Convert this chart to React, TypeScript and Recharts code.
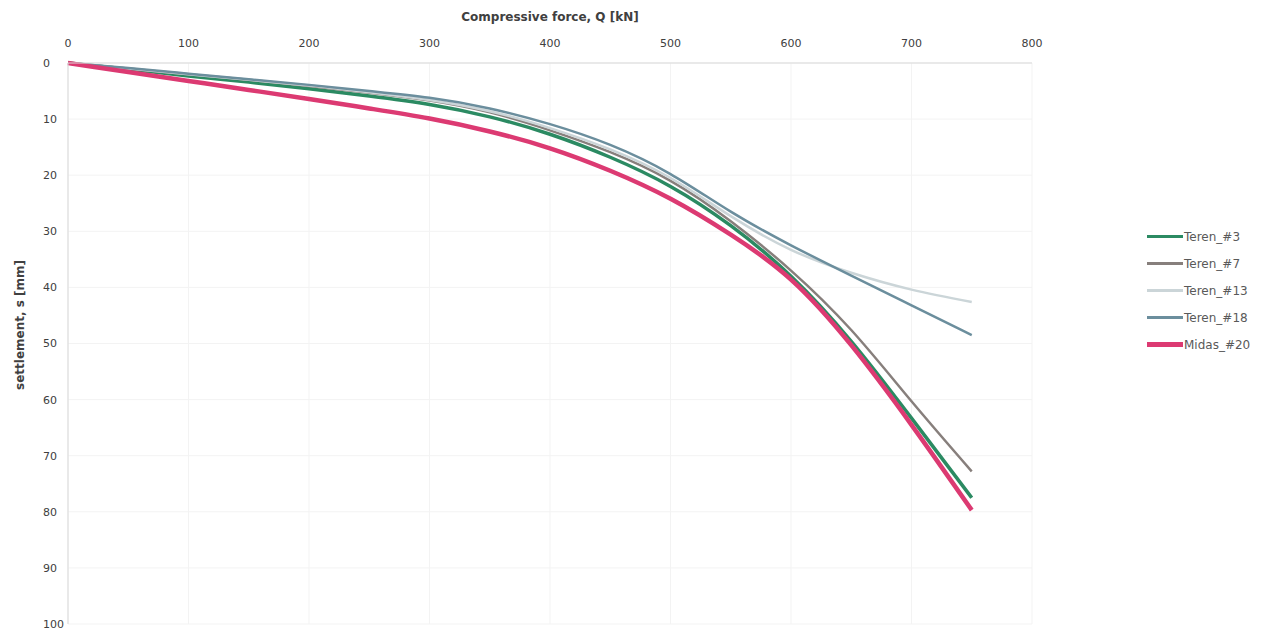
import React from 'react';
import { LineChart, Line, XAxis, YAxis, CartesianGrid, Legend, Label } from 'recharts';

// compressive force Q [kN]
const loads = [0, 50, 100, 150, 200, 250, 300, 350, 400, 450, 500, 550, 600, 650, 700, 750];

// settlement s [mm] per curve
const teren3 = [0, 1.1, 2.3, 3.4, 4.6, 5.9, 7.4, 9.6, 12.7, 16.8, 22.0, 29.0, 38.0, 49.6, 63.3, 77.5];
const teren7 = [0, 1.0, 2.0, 3.0, 4.1, 5.3, 6.7, 8.8, 12.0, 15.9, 21.0, 28.2, 37.0, 47.6, 60.3, 72.8];
const teren13 = [0, 1.0, 2.0, 3.0, 4.0, 5.2, 6.6, 8.6, 11.6, 15.4, 20.5, 27.3, 33.3, 37.4, 40.4, 42.6];
const teren18 = [0, 0.9, 1.9, 2.9, 3.9, 5.0, 6.2, 8.1, 10.9, 14.6, 19.8, 26.5, 32.5, 37.9, 43.2, 48.5];
const midas20 = [0, 1.6, 3.2, 4.8, 6.4, 8.1, 9.9, 12.2, 15.2, 19.2, 24.2, 30.6, 38.6, 50.3, 64.5, 79.7];

const xTicks = [0, 100, 200, 300, 400, 500, 600, 700, 800];
const yTicks = [0, 10, 20, 30, 40, 50, 60, 70, 80, 90, 100];

const series = [
  { key: 'Teren_#3', values: teren3, color: '#2b8a62', width: 3.5 },
  { key: 'Teren_#7', values: teren7, color: '#877f7c', width: 2.5 },
  { key: 'Teren_#13', values: teren13, color: '#cbd5d8', width: 2.5 },
  { key: 'Teren_#18', values: teren18, color: '#6b8e9d', width: 2.5 },
  { key: 'Midas_#20', values: midas20, color: '#dc3a72', width: 4.5 },
];

const data = loads.map((q, i) => {
  const row: Record<string, number> = { q };
  series.forEach(s => { row[s.key] = s.values[i]; });
  return row;
});

const FONT = '"DejaVu Sans", sans-serif';

function LegendBox({ payload }: any) {
  const items = series
    .map(s => (payload || []).find((p: any) => p.value === s.key))
    .filter(Boolean);
  return (
    <div style={{ fontFamily: FONT, fontSize: 12, color: '#595959' }}>
      {items.map((p: any) => {
        const s = series.find(x => x.key === p.value);
        return (
          <div key={p.value} style={{ display: 'flex', alignItems: 'center', height: 27 }}>
            <div style={{ width: 36, height: s ? s.width : 2, background: p.color }} />
            <span style={{ marginLeft: 1 }}>{p.value}</span>
          </div>
        );
      })}
    </div>
  );
}

export default function App() {
  return (
    <div style={{ position: 'absolute', left: 0, top: 0, background: '#fff' }}>
      <LineChart width={1275} height={631} data={data} margin={{ top: 0, right: 118, bottom: 7, left: 0 }}>
        <CartesianGrid stroke="#f3f3f3" horizontal vertical />
        <XAxis
          dataKey="q"
          type="number"
          orientation="top"
          domain={[0, 800]}
          ticks={xTicks}
          height={63}
          tickSize={14}
          tickLine={false}
          axisLine={{ stroke: '#d9d9d9' }}
          tick={{ fill: '#404040', fontSize: 11, fontFamily: FONT }}
        >
          <Label
            value="Compressive force, Q [kN]"
            position="insideTop"
            offset={12}
            style={{ fill: '#404040', fontSize: 12, fontWeight: 'bold', fontFamily: FONT }}
          />
        </XAxis>
        <YAxis
          type="number"
          reversed
          domain={[0, 100]}
          ticks={yTicks}
          width={68}
          tickLine={false}
          axisLine={{ stroke: '#d9d9d9' }}
          tick={{ fill: '#404040', fontSize: 11, fontFamily: FONT, textAnchor: 'start', dx: -17 }}
        >
          <Label
            content={() => (
              <text
                x={20}
                y={325}
                transform="rotate(-90 20 325)"
                textAnchor="middle"
                dominantBaseline="central"
                style={{ fill: '#404040', fontSize: 12, fontWeight: 'bold', fontFamily: FONT }}
              >
                settlement, s [mm]
              </text>
            )}
          />
        </YAxis>
        <Legend
          layout="vertical"
          align="right"
          verticalAlign="top"
          content={<LegendBox />}
          wrapperStyle={{ left: 1147, top: 223, width: 125 }}
        />
        {series.map(s => (
          <Line
            key={s.key}
            type="natural"
            dataKey={s.key}
            name={s.key}
            stroke={s.color}
            strokeWidth={s.width}
            dot={false}
            activeDot={false}
            isAnimationActive={false}
          />
        ))}
      </LineChart>
    </div>
  );
}
